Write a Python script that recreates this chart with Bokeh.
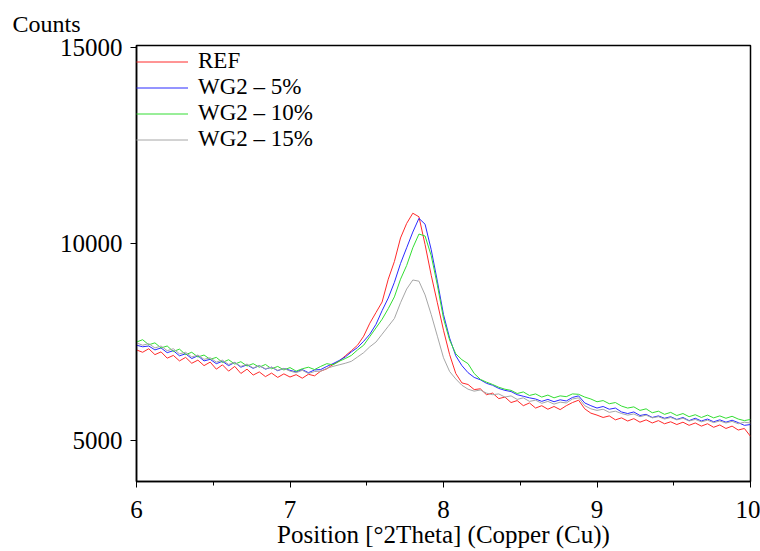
import numpy as np
from bokeh.plotting import figure
from bokeh.models import Range1d, Legend, LegendItem, Title, FixedTicker
from bokeh.embed import file_html
from bokeh.resources import INLINE

# 2theta sampling grid (degrees)
two_theta = np.round(np.linspace(6.0, 10.0, 101), 2)

ref = [7300, 7240, 7330, 7180, 7250, 7090, 7160, 7020, 7110, 6960,
       7040, 6900, 6990, 6810, 6920, 6760, 6880, 6700, 6810, 6660,
       6740, 6620, 6710, 6600, 6690, 6610, 6670, 6580, 6680, 6640,
       6760, 6820, 6930, 7010, 7150, 7280, 7420, 7650, 7980, 8250,
       8520, 9100, 9550, 10150, 10520, 10780, 10690, 9980, 9200, 8500,
       7800, 7180, 6700, 6460, 6420, 6290, 6310, 6160, 6200, 6060,
       6100, 5960, 6010, 5880, 5950, 5820, 5880, 5790, 5860, 5780,
       5880, 5960, 6020, 5800, 5690, 5640, 5580, 5620, 5520, 5570,
       5490, 5550, 5460, 5520, 5440, 5500, 5420, 5470, 5400, 5460,
       5380, 5440, 5360, 5420, 5330, 5390, 5300, 5360, 5260, 5300,
       5100]

wg2_5 = [7420, 7380, 7400, 7300, 7350, 7230, 7280, 7150, 7200, 7080,
         7150, 7020, 7060, 6950, 7010, 6900, 6980, 6860, 6920, 6830,
         6900, 6810, 6860, 6770, 6830, 6780, 6740, 6800, 6720, 6790,
         6800, 6880, 6950, 7030, 7120, 7250, 7360, 7520, 7700, 7950,
         8300, 8620, 9020, 9500, 9900, 10300, 10650, 10500, 9850, 9050,
         8200, 7600, 7150, 6900, 6720, 6600, 6540, 6450, 6400, 6320,
         6270, 6240, 6160, 6120, 6080, 6050, 5990, 6040, 5980, 6030,
         6000, 6090, 6130, 5950, 5880, 5820, 5860, 5790, 5820, 5720,
         5680, 5720, 5630, 5660, 5580, 5620, 5560, 5600, 5530, 5580,
         5500, 5560, 5490, 5540, 5470, 5520, 5460, 5510, 5450, 5380,
         5400]

wg2_10 = [7500, 7560, 7430, 7480, 7350, 7400, 7260, 7320, 7180, 7240,
          7120, 7170, 7060, 7110, 6980, 7050, 6940, 7000, 6890, 6950,
          6860, 6930, 6820, 6880, 6790, 6850, 6760, 6820, 6860, 6800,
          6880, 6950, 6920, 7010, 7080, 7160, 7300, 7420, 7640, 7860,
          8080, 8350, 8650, 9100, 9450, 9900, 10250, 10200, 9700, 8950,
          8100, 7550, 7200, 7050, 6950, 6700, 6550, 6480, 6420, 6350,
          6300, 6270, 6190, 6230, 6140, 6180, 6100, 6150, 6080, 6130,
          6110, 6180, 6170, 6100, 6050, 5980, 6010, 5930, 5960, 5870,
          5820, 5850, 5760, 5800, 5700, 5740, 5660, 5710, 5630, 5680,
          5600, 5650, 5580, 5640, 5570, 5620, 5560, 5610, 5540, 5500,
          5530]

wg2_15 = [7480, 7420, 7460, 7350, 7400, 7280, 7330, 7200, 7240, 7120,
          7170, 7060, 7100, 6990, 7040, 6930, 6980, 6880, 6940, 6840,
          6900, 6820, 6860, 6780, 6830, 6760, 6720, 6780, 6700, 6750,
          6760, 6830, 6880, 6920, 6960, 7010, 7120, 7230, 7380, 7500,
          7700, 7900, 8100, 8500, 8850, 9080, 9050, 8700, 8200, 7650,
          7100, 6750, 6560, 6400, 6300, 6250, 6280, 6200, 6160, 6180,
          6100, 6130, 6040, 6080, 5990, 6020, 5940, 5990, 5920, 5970,
          5950, 6050, 6080, 5880, 5800, 5760, 5790, 5710, 5740, 5680,
          5640, 5670, 5600, 5640, 5570, 5600, 5540, 5580, 5520, 5560,
          5490, 5530, 5470, 5510, 5450, 5490, 5440, 5480, 5420, 5460,
          5440]

series_names = ["REF", "WG2 \u2013 5%", "WG2 \u2013 10%", "WG2 \u2013 15%"]
series_values = [ref, wg2_5, wg2_10, wg2_15]
series_colors = ["#ff2a2a", "#2a2aff", "#33dd33", "#a6a6a6"]

x_ticks = [6, 7, 8, 9, 10]
y_ticks = [5000, 10000, 15000]

FONT = "Liberation Serif"

p = figure(width=760, height=551, output_backend="svg", toolbar_location=None,
           x_range=Range1d(6, 10), y_range=Range1d(3950, 15050),
           min_border_left=136, min_border_right=10, min_border_top=44,
           min_border_bottom=70)
p.background_fill_color = "white"
p.border_fill_color = "white"
p.xgrid.visible = False
p.ygrid.visible = False
p.outline_line_color = "black"
p.outline_line_width = 1.5

title = Title(text="Counts", align="left", offset=-124, text_font=FONT,
              text_font_size="24px", text_font_style="normal",
              text_color="black", standoff=17)
p.add_layout(title, "above")

items = []
for name, vals, col in zip(series_names, series_values, series_colors):
    r = p.line(two_theta, vals, line_color=col, line_width=1)
    items.append(LegendItem(label=name, renderers=[r]))

legend = Legend(items=items, location=(0, 329), border_line_color=None,
                background_fill_alpha=0, padding=4, margin=0, spacing=0,
                glyph_width=52, glyph_height=23, label_height=23,
                label_standoff=10, label_text_font=FONT,
                label_text_font_size="23px", label_text_color="black")
p.add_layout(legend)

p.xaxis.ticker = FixedTicker(ticks=x_ticks, minor_ticks=[6.5, 7.5, 8.5, 9.5])
p.yaxis.ticker = FixedTicker(ticks=y_ticks, minor_ticks=[])
for ax in (p.xaxis[0], p.yaxis[0]):
    ax.axis_line_color = "black"
    ax.axis_line_width = 1.5
    ax.major_tick_line_color = "black"
    ax.minor_tick_line_color = "black"
    ax.major_tick_in = 0
    ax.minor_tick_in = 0
    ax.major_label_text_font = FONT
    ax.major_label_text_font_size = "25px"
    ax.major_label_text_color = "black"
    ax.axis_label_text_font = FONT
    ax.axis_label_text_font_style = "normal"
    ax.axis_label_text_font_size = "25px"
    ax.axis_label_text_color = "black"
p.xaxis.major_tick_out = 6
p.xaxis.minor_tick_out = 4
p.yaxis.major_tick_out = 6
p.yaxis.major_label_standoff = 8
p.xaxis.major_label_standoff = 13
p.xaxis.axis_label_standoff = 0
p.xaxis.axis_label = "Position [\u00b02Theta] (Copper (Cu))"

open("out.html", "w").write(file_html(p, INLINE))
